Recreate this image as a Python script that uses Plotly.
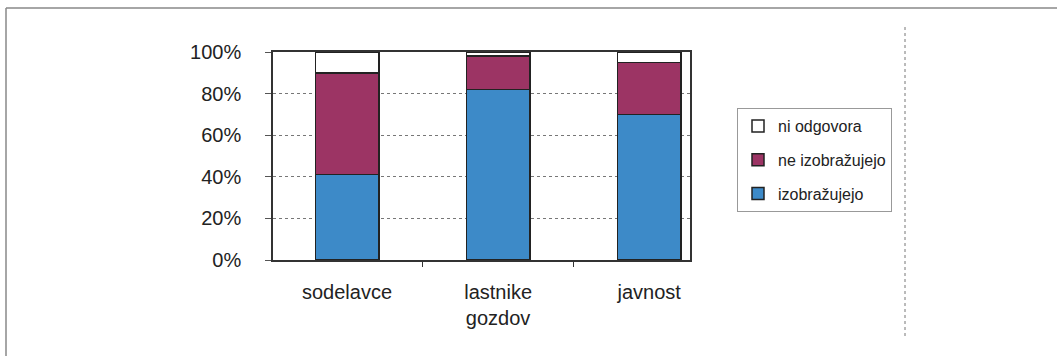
import plotly.graph_objects as go

categories = ["sodelavce", "lastnike<br>gozdov", "javnost"]
izobrazujejo = [41, 82, 70]
ne_izobrazujejo = [49, 16, 25]
ni_odgovora = [10, 2, 5]
series_names = ["izobražujejo", "ne izobražujejo", "ni odgovora"]
y_ticks = [0, 20, 40, 60, 80, 100]
y_tick_labels = ["0%", "20%", "40%", "60%", "80%", "100%"]

colors = ["#3D8AC8", "#9C3464", "#FFFFFF"]
FONT = "Liberation Sans, Arial, sans-serif"

fig = go.Figure()
for i, (name, vals) in enumerate(zip(series_names, [izobrazujejo, ne_izobrazujejo, ni_odgovora])):
    fig.add_trace(go.Bar(
        x=categories, y=vals, name=name, legendgroup=name,
        legendrank=1000 - i,
        marker=dict(color=colors[i], line=dict(color="#222222", width=1.5)),
        width=0.42,
    ))

# plot area: x 273-690, y 52-260 in a 1057x358 page
L, R, T, B = 273, 690, 52, 260
W, H = R - L, B - T
def px(x):
    return (x - L) / W
def py(y):
    return (B - y) / H

shapes = [
    dict(type="line", xref="paper", yref="paper", x0=px(6), x1=px(1057), y0=py(8), y1=py(8),
         line=dict(color="#888888", width=1.5)),
    dict(type="line", xref="paper", yref="paper", x0=px(6), x1=px(6), y0=py(8), y1=py(356),
         line=dict(color="#888888", width=1.5)),
    dict(type="line", xref="paper", yref="paper", x0=px(905), x1=px(905), y0=py(27), y1=py(337),
         line=dict(color="#777777", width=1, dash="dot")),
]

fig.update_layout(
    width=1057, height=358,
    margin=dict(l=L, r=1057 - R, t=T, b=358 - B, autoexpand=False),
    barmode="stack", bargap=0.58,
    paper_bgcolor="white", plot_bgcolor="white",
    font=dict(family=FONT, size=20, color="#222222"),
    shapes=shapes,
    legend=dict(
        x=px(737), y=py(108), xanchor="left", yanchor="top",
        traceorder="grouped", tracegroupgap=10,
        bordercolor="#999999", borderwidth=1, bgcolor="white",
        font=dict(family=FONT, size=16, color="#222222"),
        itemwidth=30,
    ),
    xaxis=dict(
        type="category", range=[-0.49, 2.27],
        showline=True, linecolor="#333333", linewidth=1.5, mirror=True,
        ticks="outside", tickson="boundaries", ticklen=5, tickcolor="#333333",
        showgrid=False, tickfont=dict(size=20), ticklabelstandoff=13,
    ),
    yaxis=dict(
        range=[0, 100], tickvals=y_ticks, ticktext=y_tick_labels,
        showline=True, linecolor="#333333", linewidth=1.5, mirror=True,
        ticks="outside", ticklen=6, tickcolor="#555555",
        showgrid=True, gridcolor="#777777", gridwidth=1, griddash="dot",
        tickfont=dict(size=20), ticklabelstandoff=20,
        zeroline=False,
    ),
)

fig.write_html("out.html")
